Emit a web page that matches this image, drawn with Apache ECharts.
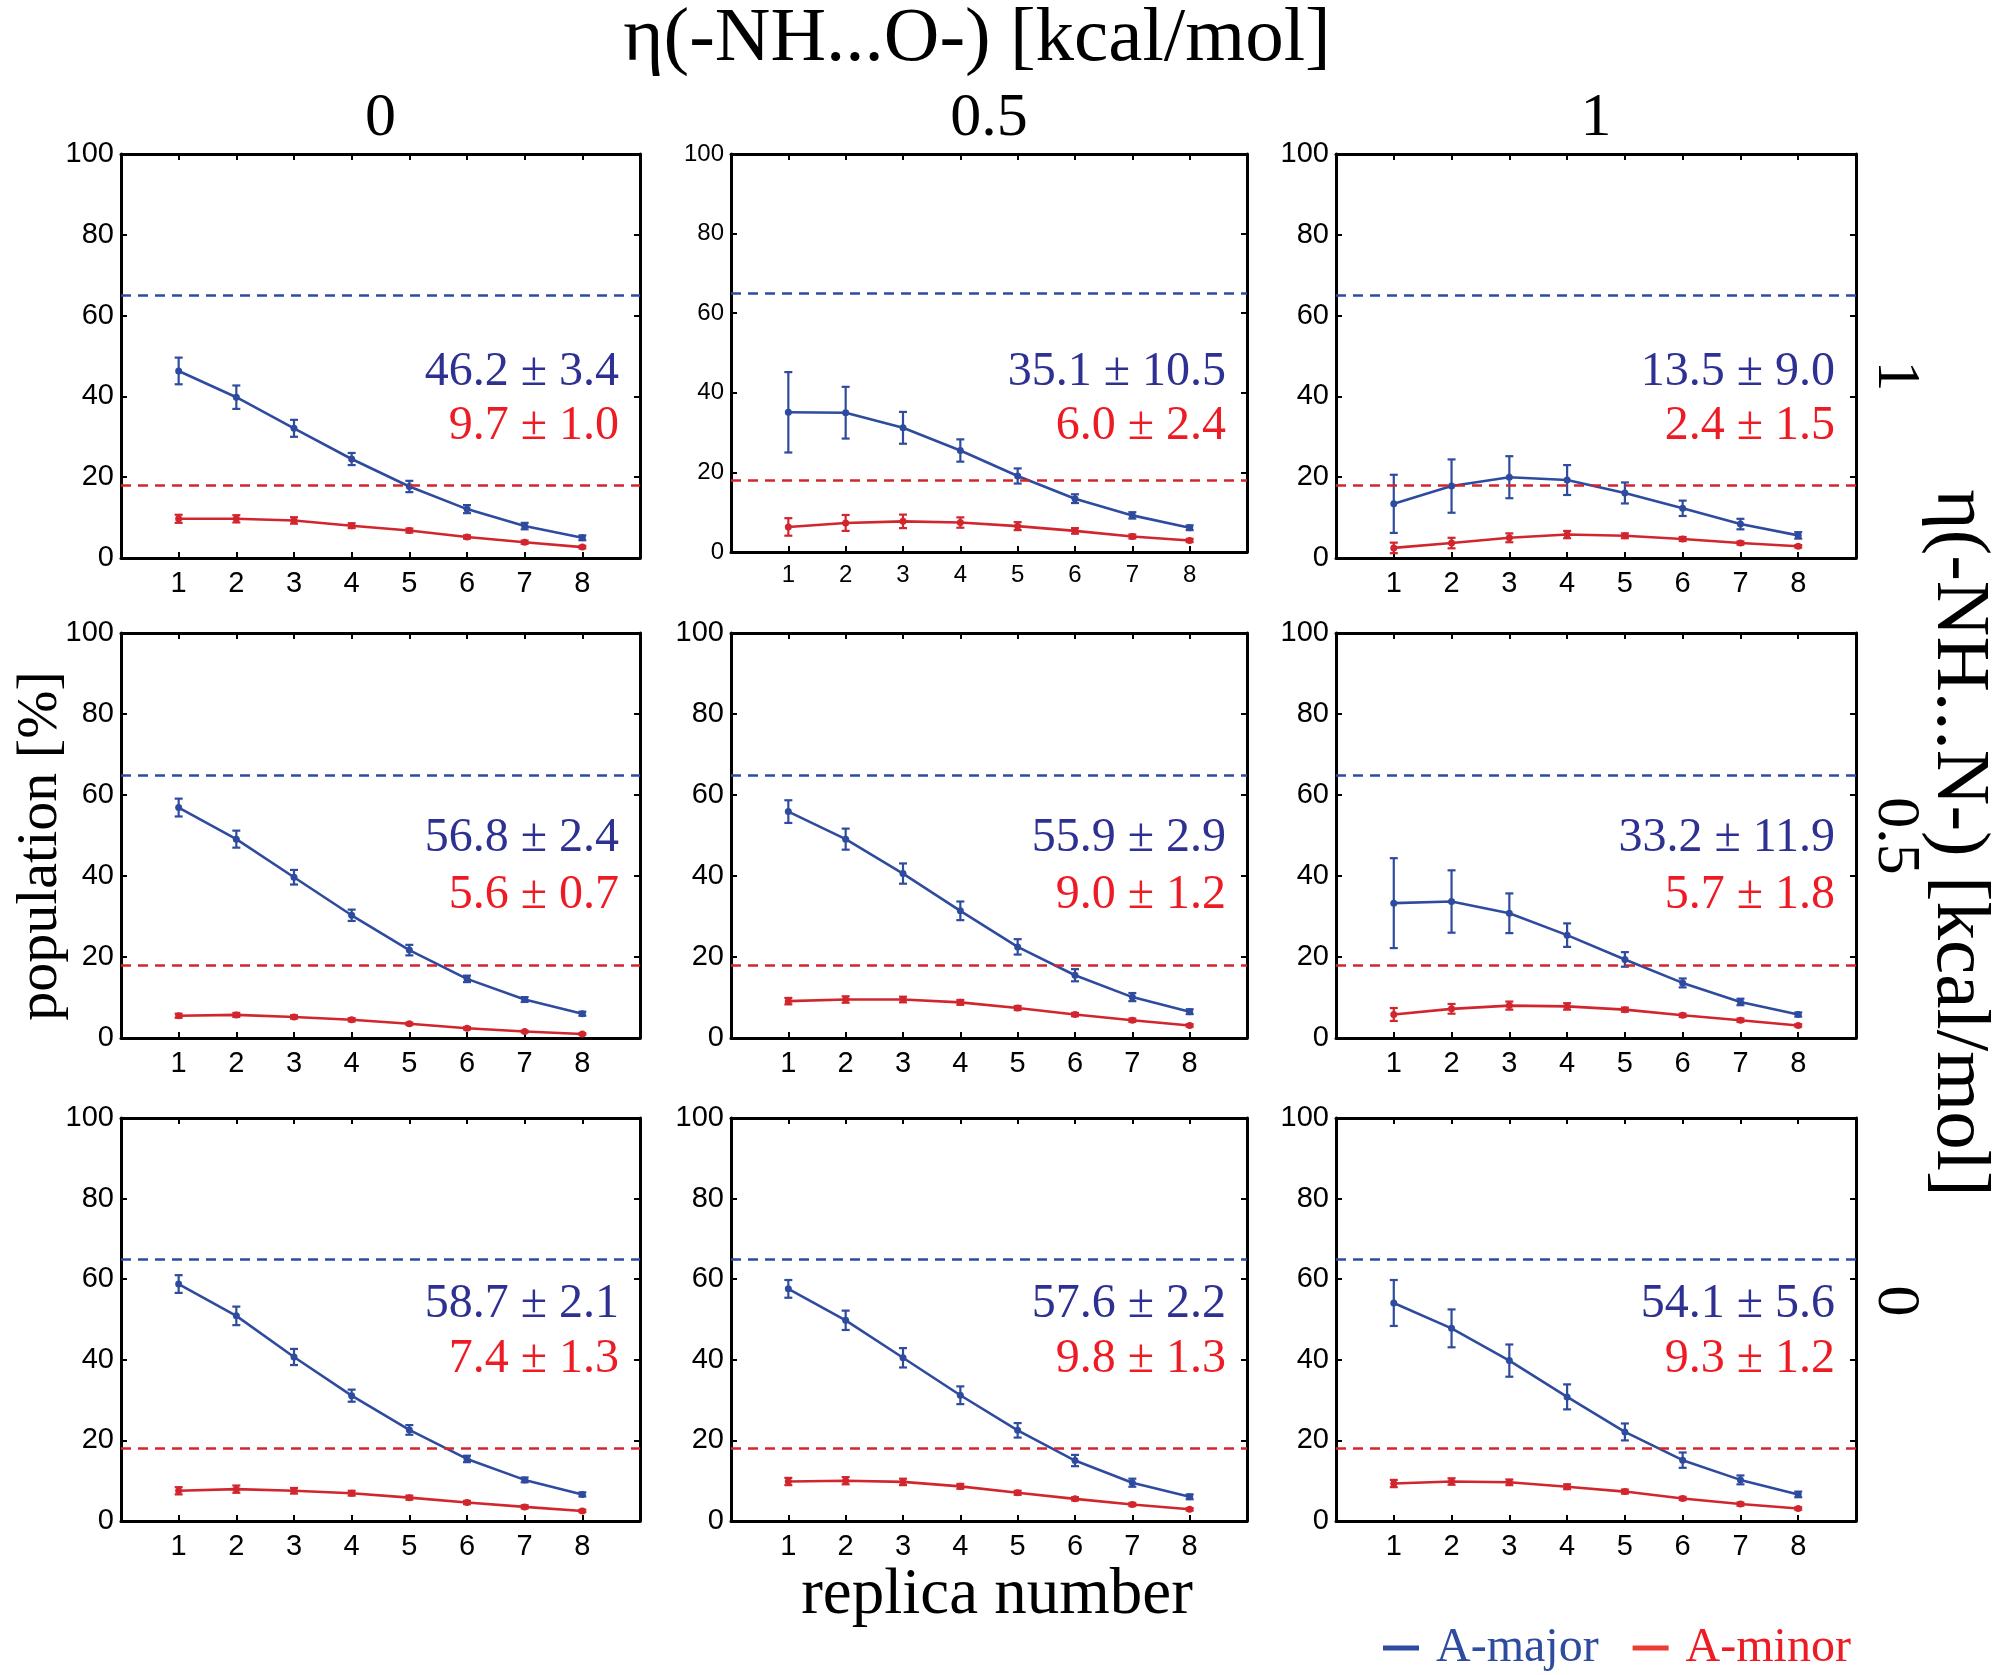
<!DOCTYPE html>
<html>
<head>
<meta charset="utf-8">
<script src="https://cdn.jsdelivr.net/npm/echarts@6/dist/echarts.min.js"></script>
<style>
html, body { margin: 0; padding: 0; background: #fff; }
#chart { width: 2010px; height: 1675px; }
</style>
</head>
<body>
<div id="chart"></div>
<script>
// replica index on the x axis
const replicas = [1, 2, 3, 4, 5, 6, 7, 8];
// column headers: eta(-NH...O-), row headers: eta(-NH...N-)
const etaOLabels = ['0', '0.5', '1'];
const etaNLabels = ['1', '0.5', '0'];

// panels in reading order (row 1: etaN=1, row 2: etaN=0.5, row 3: etaN=0)
const majorMean = [
  [46.3, 39.8, 32.1, 24.5, 17.7, 12.1, 7.9, 5.0],
  [35.1, 35.0, 31.2, 25.5, 19.1, 13.4, 9.2, 6.1],
  [13.4, 17.8, 20.0, 19.3, 16.1, 12.3, 8.4, 5.6],
  [56.9, 49.1, 39.7, 30.3, 21.7, 14.6, 9.5, 6.0],
  [55.9, 49.1, 40.6, 31.4, 22.5, 15.5, 10.1, 6.5],
  [33.3, 33.7, 30.8, 25.4, 19.4, 13.6, 8.9, 5.8],
  [58.8, 50.9, 40.7, 31.1, 22.6, 15.4, 10.2, 6.6],
  [57.6, 49.8, 40.5, 31.2, 22.5, 15.0, 9.5, 6.0],
  [54.1, 47.8, 39.8, 30.8, 22.1, 15.1, 10.2, 6.6],
];
const majorErr = [
  [3.3, 2.9, 2.1, 1.5, 1.4, 1.0, 0.8, 0.6],
  [10.1, 6.5, 4.0, 2.8, 1.9, 1.1, 0.8, 0.6],
  [7.2, 6.6, 5.2, 3.7, 2.6, 1.9, 1.3, 0.8],
  [2.2, 2.1, 1.8, 1.4, 1.3, 0.8, 0.6, 0.5],
  [2.8, 2.6, 2.5, 2.3, 1.9, 1.5, 1.0, 0.6],
  [11.1, 7.7, 4.9, 2.9, 1.8, 1.1, 0.8, 0.5],
  [2.2, 2.3, 2.0, 1.5, 1.2, 0.8, 0.6, 0.5],
  [2.2, 2.4, 2.4, 2.2, 1.8, 1.4, 1.0, 0.6],
  [5.7, 4.7, 4.0, 3.1, 2.1, 1.9, 1.1, 0.7],
];
const minorMean = [
  [9.7, 9.7, 9.3, 8.0, 6.8, 5.2, 3.9, 2.7],
  [6.3, 7.3, 7.7, 7.4, 6.5, 5.3, 3.9, 2.9],
  [2.5, 3.7, 5.0, 5.8, 5.5, 4.7, 3.7, 2.9],
  [5.5, 5.7, 5.2, 4.5, 3.5, 2.4, 1.6, 1.0],
  [9.1, 9.5, 9.5, 8.8, 7.4, 5.8, 4.4, 3.1],
  [5.8, 7.2, 8.0, 7.8, 7.0, 5.6, 4.4, 3.1],
  [7.5, 7.9, 7.5, 6.9, 5.8, 4.6, 3.5, 2.5],
  [9.8, 10.0, 9.7, 8.6, 7.0, 5.5, 4.1, 2.9],
  [9.3, 9.8, 9.6, 8.5, 7.3, 5.6, 4.2, 3.1],
];
const minorErr = [
  [1.0, 0.9, 0.8, 0.6, 0.5, 0.4, 0.4, 0.3],
  [2.2, 2.0, 1.7, 1.3, 1.0, 0.7, 0.5, 0.4],
  [1.3, 1.3, 1.1, 0.9, 0.6, 0.5, 0.4, 0.3],
  [0.5, 0.5, 0.4, 0.4, 0.3, 0.3, 0.2, 0.2],
  [0.8, 0.8, 0.7, 0.6, 0.5, 0.4, 0.4, 0.3],
  [1.6, 1.2, 1.0, 0.8, 0.5, 0.4, 0.4, 0.3],
  [0.9, 0.9, 0.7, 0.6, 0.5, 0.4, 0.4, 0.3],
  [0.9, 0.9, 0.8, 0.6, 0.5, 0.4, 0.4, 0.3],
  [0.9, 0.8, 0.7, 0.6, 0.5, 0.4, 0.4, 0.3],
];
const majorAvg = ['46.2 ± 3.4', '35.1 ± 10.5', '13.5 ± 9.0', '56.8 ± 2.4', '55.9 ± 2.9', '33.2 ± 11.9', '58.7 ± 2.1', '57.6 ± 2.2', '54.1 ± 5.6'];
const minorAvg = ['9.7 ± 1.0', '6.0 ± 2.4', '2.4 ± 1.5', '5.6 ± 0.7', '9.0 ± 1.2', '5.7 ± 1.8', '7.4 ± 1.3', '9.8 ± 1.3', '9.3 ± 1.2'];
// reference (experimental) populations, dashed lines
const refMajor = 65;
const refMinor = 18;
const yTicks = [0, 20, 40, 60, 80, 100];

const BLUE = '#2e4b9f';
const RED = '#d2262e';
const BLUE_TXT = '#2e3192';
const RED_TXT = '#ed1c24';
const SERIF = '"Liberation Serif", "Times New Roman", serif';
const SANS = '"Liberation Sans", Arial, sans-serif';

// panel boxes
const colLeft = [121, 731, 1336];
const colWidth = [519, 516, 520];
const rowTop = [154, 633, 1118];
const rowHeight = [404, 405, 403];

function errBar(color) {
  return function (params, api) {
    const x = api.value(0);
    const hi = api.coord([x, api.value(2)]);
    const lo = api.coord([x, api.value(1)]);
    const w = 4;
    const style = { stroke: color, lineWidth: 2.2 };
    return {
      type: 'group',
      children: [
        { type: 'line', shape: { x1: hi[0], y1: hi[1], x2: lo[0], y2: lo[1] }, style },
        { type: 'line', shape: { x1: hi[0] - w, y1: hi[1], x2: hi[0] + w, y2: hi[1] }, style },
        { type: 'line', shape: { x1: lo[0] - w, y1: lo[1], x2: lo[0] + w, y2: lo[1] }, style },
      ],
    };
  };
}

const grids = [], xAxes = [], yAxes = [], series = [], graphics = [];

for (let p = 0; p < 9; p++) {
  const r = Math.floor(p / 3), c = p % 3;
  const left = colLeft[c], top = rowTop[r], width = colWidth[c];
  const height = (p === 1) ? 398 : rowHeight[r];
  const tickFont = (p === 1) ? 24 : 29;
  grids.push({ left, top, width, height, containLabel: false });

  const frame = { show: true, onZero: false, lineStyle: { color: '#000', width: 3 } };
  const tick = { show: true, inside: true, length: 6, lineStyle: { color: '#000', width: 2 } };
  xAxes.push({
    gridIndex: p, type: 'value', min: 0, max: 9, interval: 1, position: 'bottom',
    axisLine: frame, axisTick: tick, splitLine: { show: false },
    axisLabel: {
      color: '#000', fontFamily: SANS, fontSize: tickFont, margin: 11,
      formatter: v => (replicas.indexOf(v) >= 0 ? String(v) : ''),
    },
  });
  xAxes.push({
    gridIndex: p, type: 'value', min: 0, max: 9, interval: 1, position: 'top',
    axisLine: frame, axisTick: tick, splitLine: { show: false }, axisLabel: { show: false },
  });
  yAxes.push({
    gridIndex: p, type: 'value', min: yTicks[0], max: yTicks[yTicks.length - 1], interval: 20, position: 'left',
    axisLine: frame, axisTick: tick, splitLine: { show: false },
    axisLabel: { color: '#000', fontFamily: SANS, fontSize: tickFont, margin: 7 },
  });
  yAxes.push({
    gridIndex: p, type: 'value', min: 0, max: 100, interval: 20, position: 'right',
    axisLine: frame, axisTick: tick, splitLine: { show: false }, axisLabel: { show: false },
  });

  const xi = 2 * p, yi = 2 * p;
  const dash = (val, color) => ({
    silent: true, symbol: ['none', 'none'], label: { show: false },
    lineStyle: { color, type: [10, 7], width: 2.5 },
    data: [{ yAxis: val }],
  });
  series.push({
    name: 'A-major', type: 'line', xAxisIndex: xi, yAxisIndex: yi,
    data: replicas.map((x, i) => [x, majorMean[p][i]]),
    symbol: 'circle', symbolSize: 7,
    lineStyle: { color: BLUE, width: 2.6 }, itemStyle: { color: BLUE },
    markLine: dash(refMajor, BLUE), z: 3,
  });
  series.push({
    name: 'A-minor', type: 'line', xAxisIndex: xi, yAxisIndex: yi,
    data: replicas.map((x, i) => [x, minorMean[p][i]]),
    symbol: 'circle', symbolSize: 7,
    lineStyle: { color: RED, width: 2.6 }, itemStyle: { color: RED },
    markLine: dash(refMinor, RED), z: 3,
  });
  series.push({
    type: 'custom', xAxisIndex: xi, yAxisIndex: yi, renderItem: errBar(BLUE),
    encode: { x: 0, y: [1, 2] }, z: 4,
    data: replicas.map((x, i) => [x, majorMean[p][i] - majorErr[p][i], majorMean[p][i] + majorErr[p][i]]),
  });
  series.push({
    type: 'custom', xAxisIndex: xi, yAxisIndex: yi, renderItem: errBar(RED),
    encode: { x: 0, y: [1, 2] }, z: 4,
    data: replicas.map((x, i) => [x, minorMean[p][i] - minorErr[p][i], minorMean[p][i] + minorErr[p][i]]),
  });

  const blueDy = [218, 205, 186][r], redDy = [272, 262, 241][r];
  graphics.push({
    type: 'text', x: left + width - 21, y: top + blueDy,
    style: { text: majorAvg[p], fill: BLUE_TXT, font: '48px ' + SERIF, align: 'right', verticalAlign: 'middle' },
  });
  graphics.push({
    type: 'text', x: left + width - 21, y: top + redDy,
    style: { text: minorAvg[p], fill: RED_TXT, font: '48px ' + SERIF, align: 'right', verticalAlign: 'middle' },
  });
}

// headers
graphics.push({
  type: 'text', x: 977, y: 40,
  style: { text: 'η(-NH...O-) [kcal/mol]', fill: '#000', font: '77px ' + SERIF, align: 'center', verticalAlign: 'middle' },
});
etaOLabels.forEach((t, c) => graphics.push({
  type: 'text', x: colLeft[c] + colWidth[c] / 2, y: 119,
  style: { text: t, fill: '#000', font: '62px ' + SERIF, align: 'center', verticalAlign: 'middle' },
}));
const rowLabelY = [376, 836, 1301];
etaNLabels.forEach((t, r) => graphics.push({
  type: 'text', x: 1895, y: rowLabelY[r], rotation: -Math.PI / 2,
  style: { text: t, fill: '#000', font: '62px ' + SERIF, align: 'center', verticalAlign: 'middle' },
}));
graphics.push({
  type: 'text', x: 1958, y: 843, rotation: -Math.PI / 2,
  style: { text: 'η(-NH...N-) [kcal/mol]', fill: '#000', font: '77px ' + SERIF, align: 'center', verticalAlign: 'middle' },
});
graphics.push({
  type: 'text', x: 41, y: 846, rotation: Math.PI / 2,
  style: { text: 'population [%]', fill: '#000', font: '58px ' + SERIF, align: 'center', verticalAlign: 'middle' },
});
graphics.push({
  type: 'text', x: 997, y: 1596,
  style: { text: 'replica number', fill: '#000', font: '65px ' + SERIF, align: 'center', verticalAlign: 'middle' },
});

const chart = echarts.init(document.getElementById('chart'), null, { renderer: 'canvas' });
chart.setOption({
  animation: false,
  backgroundColor: '#fff',
  grid: grids,
  xAxis: xAxes,
  yAxis: yAxes,
  legend: {
    left: 1378, top: 1619, icon: 'rect', itemWidth: 36, itemHeight: 5, itemGap: 34,
    textStyle: { fontFamily: SERIF, fontSize: 48, padding: [0, 0, 0, 12] },
    data: [
      { name: 'A-major', textStyle: { color: BLUE } },
      { name: 'A-minor', textStyle: { color: RED_TXT }, itemStyle: { color: '#ee3b33' } },
    ],
  },
  series,
  graphic: graphics,
});
</script>
</body>
</html>
